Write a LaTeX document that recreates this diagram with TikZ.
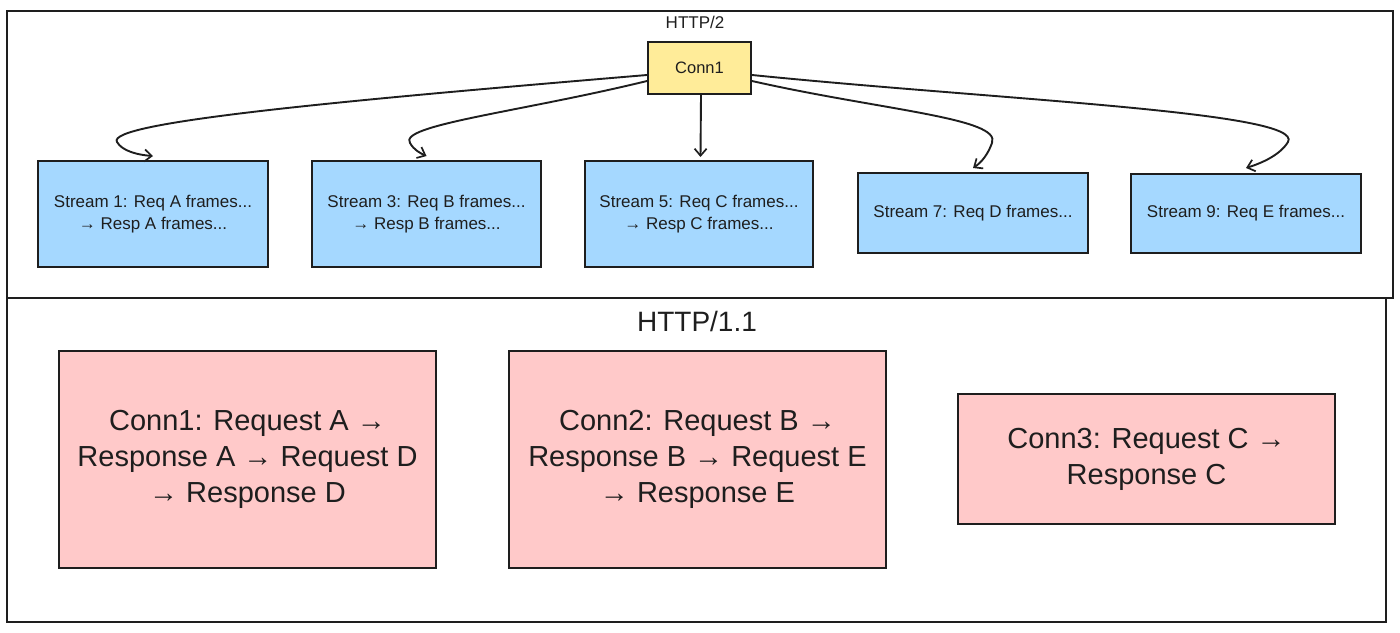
\documentclass[tikz,border=0pt]{standalone}
\usepackage{fontspec}
\setmainfont{Liberation Sans}
\usetikzlibrary{arrows.meta}
\definecolor{ink}{HTML}{1E1E1E}
\definecolor{yel}{HTML}{FFEC99}
\definecolor{blu}{HTML}{A5D8FF}
\definecolor{pnk}{HTML}{FFC9C9}
\tikzset{
  frame/.style={draw=ink, line width=2pt},
  box/.style={draw=ink, line width=2pt, inner sep=0pt, align=center, text=ink},
  connbox/.style={box, fill=yel, minimum width=103pt, minimum height=52pt, font=\fontsize{16.5}{20}\selectfont},
  streambox/.style={box, fill=blu, minimum width=230pt, font=\fontsize{17}{22}\selectfont},
  pinkbox/.style={box, fill=pnk, minimum width=377pt, font=\fontsize{29}{36}\selectfont},
  flow/.style={draw=ink, line width=1.9pt, -{Straight Barb[length=7pt,width=12pt,line width=1.7pt]}},
  lbl/.style={text=ink, inner sep=0pt}
}
\begin{document}
\begin{tikzpicture}[x=1pt,y=-1pt]
\useasboundingbox (0,0) rectangle (1400,632);
\fill[white] (0,0) rectangle (1400,632);
% frames
\draw[frame] (7,11) rectangle (1393,298);
\draw[frame] (7,298) rectangle (1386,622);
\node[lbl, font=\fontsize{17}{20}\selectfont] (h2) at (695,22) {HTTP/2};
\node[lbl, font=\fontsize{28}{32}\selectfont] (h11) at (697,321) {HTTP/1.1};
% HTTP/2
\node[connbox] (conn) at (699.5,68) {Conn1};
\node[streambox, minimum height=106pt] (s1) at (153,214) {Stream 1: Req A frames...\\→ Resp A frames...};
\node[streambox, minimum height=106pt, minimum width=229pt] (s3) at (426.5,214) {Stream 3: Req B frames...\\→ Resp B frames...};
\node[streambox, minimum height=106pt, minimum width=228pt] (s5) at (699,214) {Stream 5: Req C frames...\\→ Resp C frames...};
\node[streambox, minimum height=80pt] (s7) at (973,213) {Stream 7: Req D frames...};
\node[streambox, minimum height=79pt] (s9) at (1246,213.5) {Stream 9: Req E frames...};
% arrows
\draw[flow] ([yshift=-7pt]conn.west) .. controls (350,100) and (105,122) .. (117,142) .. controls (122,151) and (138,155) .. ([yshift=4pt]s1.north);
\draw[flow] ([yshift=-13pt]conn.west) .. controls (520,112) and (398,125) .. (410,143) .. controls (414,150) and (420,153) .. ([yshift=4pt]s3.north);
\draw[flow] ([xshift=1.5pt]conn.south) -- ([xshift=1.5pt,yshift=3pt]s5.north);
\draw[flow] ([yshift=-13pt]conn.east) .. controls (880,110) and (1002,118) .. (992,143) .. controls (988,154) and (982,162) .. ([yshift=4pt]s7.north);
\draw[flow] ([yshift=-7pt]conn.east) .. controls (1000,100) and (1305,112) .. (1288,142) .. controls (1280,155) and (1262,163) .. ([yshift=5pt]s9.north);
% HTTP/1.1
\node[pinkbox, minimum height=217pt] (p1) at (247.5,459.5) {Conn1: Request A →\\Response A → Request D\\→ Response D};
\node[pinkbox, minimum height=217pt] (p2) at (697.5,459.5) {Conn2: Request B →\\Response B → Request E\\→ Response E};
\node[pinkbox, minimum height=130pt] (p3) at (1146.5,459) {Conn3: Request C →\\Response C};
\end{tikzpicture}
\end{document}
